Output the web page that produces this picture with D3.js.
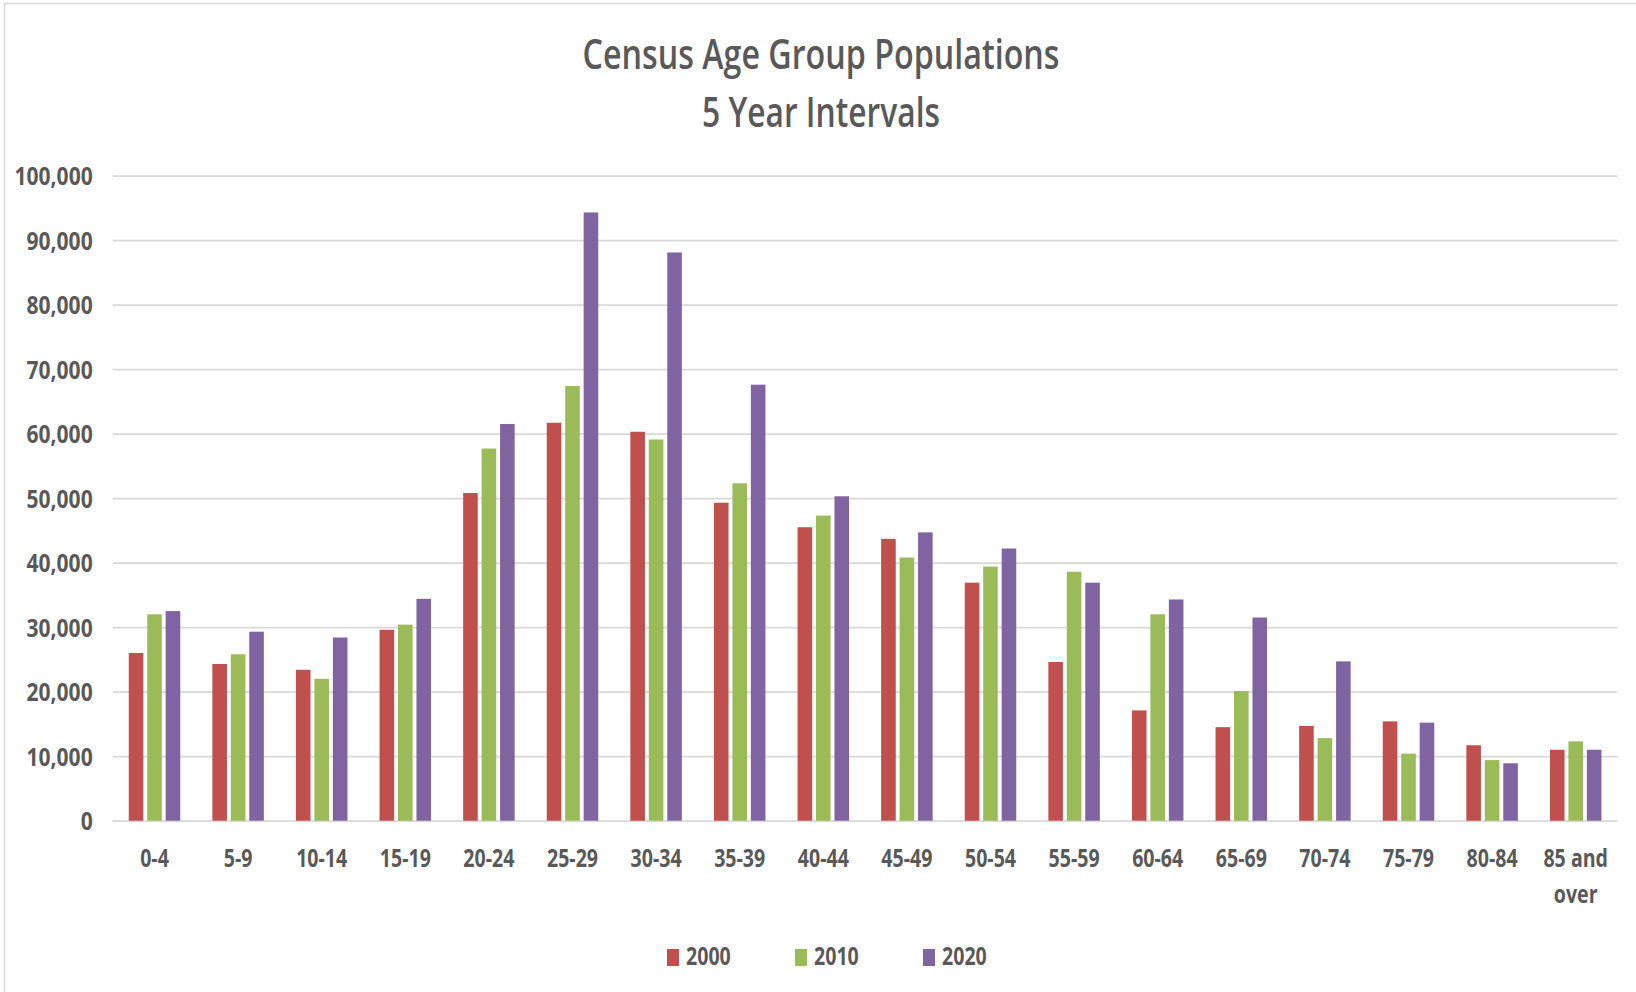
<!DOCTYPE html>
<html>
<head>
<meta charset="utf-8">
<script src="https://cdn.jsdelivr.net/npm/d3@7"></script>
<style>
  body { margin: 0; background: #fff; }
  text { font-family: "Open Sans", sans-serif; fill: #595959; }
</style>
</head>
<body>
<svg id="canvas" width="1636" height="992"></svg>
<script>
// data
var categories = ['0-4','5-9','10-14','15-19','20-24','25-29','30-34','35-39','40-44','45-49','50-54','55-59','60-64','65-69','70-74','75-79','80-84','85 and over'];
var series = ['2000','2010','2020'];
var colors = ['#C0504D','#9BBB59','#8064A2'];
var values2000 = [26000,24300,23400,29600,50800,61700,60300,49300,45500,43700,36900,24600,17100,14500,14700,15400,11700,11000];
var values2010 = [32000,25800,22000,30400,57700,67400,59100,52300,47300,40800,39400,38600,32000,20100,12800,10400,9400,12300];
var values2020 = [32500,29300,28400,34400,61500,94300,88100,67600,50300,44700,42200,36900,34300,31500,24700,15200,8900,11000];
var yTicks = [0,10000,20000,30000,40000,50000,60000,70000,80000,90000,100000];
var titleLines = ['Census Age Group Populations','5 Year Intervals'];

var allValues = [values2000, values2010, values2020];
var sx = 0.8; // text in the reference is squeezed horizontally

// ************************************************************************************************** //
// Scales

var plot = { left: 112.7, right: 1617.5, top: 175.7, bottom: 820.7 };

var x0 = d3.scaleBand().domain(categories).range([plot.left, plot.right]).paddingInner(0.384).paddingOuter(0.192);
var x1 = d3.scaleBand().domain(series).range([0, x0.bandwidth()]).paddingInner(0.21);
var y = d3.scaleLinear().domain([0, 100000]).range([plot.bottom, plot.top]);

var svg = d3.select('#canvas');

// frame
svg.append('rect').attr('x', 4.5).attr('y', 3.5).attr('width', 1700).attr('height', 1100)
  .style('fill', 'none').style('stroke', '#D9D9D9').style('stroke-width', 1.5);

// ************************************************************************************************** //
// Title

svg.append('g').selectAll('text').data(titleLines).enter().append('text')
  .attr('x', 821).attr('y', (d, i) => 69 + i*58)
  .attr('text-anchor', 'middle')
  .attr('textLength', (d, i) => i == 0 ? 477 : 238)
  .attr('lengthAdjust', 'spacingAndGlyphs')
  .style('font-size', '42px').style('font-weight', 600)
  .text(d => d);

// ************************************************************************************************** //
// Y axis + grid

var yAxis = svg.append('g').attr('transform', 'translate(' + plot.left + ',0)')
  .call(d3.axisLeft(y).tickValues(yTicks).tickSize(-(plot.right - plot.left)).tickPadding(20).tickFormat(d3.format(',')));
yAxis.select('.domain').remove();
yAxis.selectAll('line').style('stroke', '#D9D9D9').style('stroke-width', 1.75);
yAxis.selectAll('text')
  .attr('transform', function(){ return 'translate(' + d3.select(this).attr('x') + ',0) scale(0.86,1)'; })
  .attr('x', 0).attr('dy', '0.36em')
  .style('font-size', '24.5px').style('font-weight', 700).style('fill', '#595959');

// ************************************************************************************************** //
// Bars

var groups = svg.append('g').selectAll('g').data(categories).enter().append('g')
  .attr('transform', d => 'translate(' + x0(d) + ',0)');

groups.selectAll('rect').data((d, i) => series.map((s, j) => ({ s: s, v: allValues[j][i], c: colors[j] })))
  .enter().append('rect')
  .attr('x', d => x1(d.s)).attr('width', x1.bandwidth())
  .attr('y', d => y(d.v)).attr('height', d => y(0) - y(d.v))
  .style('fill', d => d.c);

// ************************************************************************************************** //
// X labels

var xLab = svg.append('g').selectAll('text').data(categories).enter().append('text')
  .attr('transform', d => 'translate(' + (x0(d) + x0.bandwidth()/2) + ',867) scale(' + sx + ',1)')
  .attr('text-anchor', 'middle')
  .style('font-size', '24.5px').style('font-weight', 700);

xLab.each(function(d){
  var words = d == '85 and over' ? ['85 and', 'over'] : [d];
  d3.select(this).selectAll('tspan').data(words).enter().append('tspan')
    .attr('x', 0).attr('dy', (w, i) => i == 0 ? 0 : 36).text(w => w);
});

// ************************************************************************************************** //
// Legend

var legend = svg.append('g').selectAll('g').data(series).enter().append('g')
  .attr('transform', (d, i) => 'translate(' + (667 + i*128) + ',949)');
legend.append('rect').attr('width', 12).attr('height', 17).style('fill', (d, i) => colors[i]);
legend.append('text')
  .attr('transform', 'translate(19,16) scale(' + sx + ',1)')
  .style('font-size', '24.5px').style('font-weight', 700)
  .text(d => d);
</script>
</body>
</html>
